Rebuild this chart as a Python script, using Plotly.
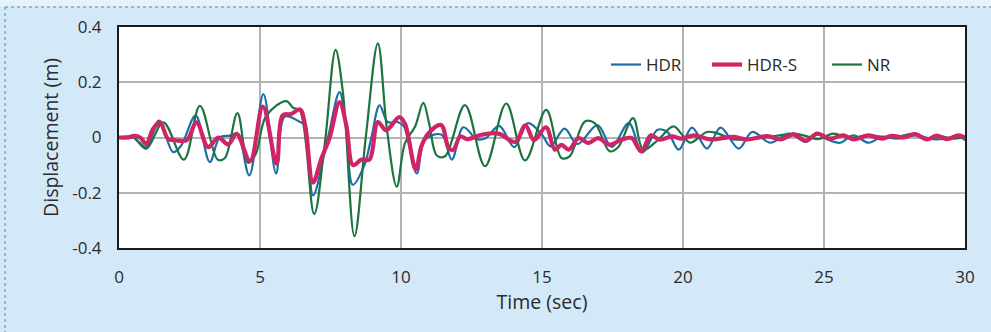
import plotly.graph_objects as go

# ---- data (time in sec, displacement in m) ----
t_hdr = [0, 0.5, 0.97, 1.42, 1.92, 2.2, 2.72, 3.22, 3.57, 3.93, 4.2, 4.62, 5.12, 5.57, 5.88,
         6.42, 6.6, 6.88, 7.41, 7.82, 8.05, 8.29, 8.7, 8.95, 9.24, 9.53, 9.88, 10.1, 10.56, 10.85,
         11.44, 11.8, 12.21, 12.69, 13.0, 13.48, 14.02, 14.5, 15.0, 15.3, 15.8, 16.25, 16.97, 17.47,
         18.08, 18.55, 19.1, 19.45, 19.85, 20.32, 20.85, 21.33, 21.98, 22.45, 23.1, 23.76, 24.35,
         24.76, 25.12, 25.57, 26.04, 26.58, 27.05, 27.58, 28.23, 28.95, 29.4, 29.77, 30]
v_hdr = [0, 0, -0.035, 0.061, -0.053, -0.03, 0.079, -0.089, 0.0, 0.007, 0.013, -0.137, 0.157, -0.13,
         0.076, 0.056, 0.044, -0.21, 0, 0.164, 0.04, -0.171, -0.1, 0.0, 0.116, 0.056, 0.056, 0.04,
         -0.13, -0.008, 0.01, -0.08, 0.037, -0.006, -0.003, 0.042, -0.035, 0.052, 0.01, -0.032,
         0.032, -0.024, 0.045, -0.034, 0.052, -0.054, 0.028, 0.02, -0.044, 0.036, -0.04, 0.036,
         -0.04, 0.02, -0.019, 0.014, -0.016, 0.012, -0.007, -0.019, 0.008, -0.019, 0.002, -0.004,
         0.008, -0.007, -0.002, 0.005, -0.01]

t_hdrs = [0, 0.3, 0.55, 0.75, 0.97, 1.2, 1.45, 1.74, 2.0, 2.4, 2.75, 3.16, 3.52, 3.87, 4.17, 4.65,
          5.1, 5.59, 5.8, 6.1, 6.42, 6.6, 6.88, 7.18, 7.47, 7.82, 8.06, 8.3, 8.6, 8.88, 9.18, 9.47,
          9.94, 10.14, 10.52, 10.73, 10.97, 11.42, 11.7, 11.86, 12.1, 12.35, 12.86, 13.46, 14.05,
          14.41, 14.72, 15.14, 15.46, 15.69, 15.95, 16.3, 16.64, 16.99, 17.4, 17.82, 18.18, 18.52,
          18.86, 19.18, 19.6, 19.95, 20.38, 20.97, 21.8, 22.27, 22.99, 23.46, 23.93, 24.35, 24.76,
          25.21, 25.69, 26.04, 26.58, 27.05, 27.4, 27.82, 28.23, 28.65, 29.0, 29.36, 29.77, 30]
v_hdrs = [0, 0, 0.006, 0, -0.023, 0.03, 0.055, -0.005, -0.01, -0.01, 0.055, -0.035, 0.0, -0.025,
          0.013, -0.085, 0.112, -0.095, 0.08, 0.085, 0.102, 0.044, -0.163, -0.075, 0, 0.128, 0.045,
          -0.1, -0.08, -0.08, 0.056, 0.026, 0.074, 0.05, -0.115, -0.03, 0.015, 0.045, -0.04, -0.044,
          0.004, -0.006, 0.01, 0.014, -0.016, 0.044, -0.01, 0.037, -0.044, -0.027, -0.044, -0.002,
          -0.02, -0.002, -0.026, -0.008, -0.002, -0.05, 0.008, -0.008, 0.004, -0.004, 0.008, -0.007,
          0.002, -0.007, 0.005, -0.007, 0.011, -0.012, 0.014, -0.004, 0.008, -0.007, 0.008, -0.004,
          0.006, 0, 0.012, -0.007, 0.007, -0.006, 0.008, 0]

t_nr = [0, 0.5, 0.97, 1.57, 2.3, 2.87, 3.5, 3.75, 4.2, 4.58, 4.85, 5.22, 5.93, 6.18, 6.41, 6.92,
        7.3, 7.68, 7.94, 8.35, 8.75, 9.18, 9.5, 9.85, 10.14, 10.5, 10.79, 11.0, 11.27, 11.56, 12.27,
        12.98, 13.73, 14.4, 15.15, 15.69, 15.98, 16.52, 16.87, 17.4, 17.7, 18.23, 18.59, 19.1,
        19.66, 20.0, 20.26, 20.85, 21.2, 21.8, 22.5, 23.2, 23.93, 24.4, 24.8, 25.33, 25.9, 26.58,
        27.1, 27.6, 28.18, 28.7, 29.1, 29.6, 30]
v_nr = [0, 0, -0.04, 0.055, -0.08, 0.115, -0.08, -0.075, 0.088, -0.092, -0.06, 0.078, 0.132, 0.107,
        0.098, -0.277, -0.02, 0.317, 0.164, -0.357, 0.0, 0.341, 0.03, -0.178, -0.02, 0.04, 0.125,
        0.05, -0.065, -0.068, 0.117, -0.104, 0.123, -0.083, 0.1, -0.074, -0.068, 0.058, 0.052,
        -0.05, -0.035, 0.07, -0.044, -0.01, 0.04, 0.006, -0.019, 0.02, 0.016, -0.007, -0.004,
        0.004, 0.014, 0.004, -0.006, 0.014, -0.002, 0.008, 0.002, 0.002, 0.014, -0.006, 0.004,
        -0.004, 0]

x_ticks = [0, 5, 10, 15, 20, 25, 30]
y_ticks = [-0.4, -0.2, 0, 0.2, 0.4]
y_tick_text = ["-0.4", "-0.2", "0", "0.2", "0.4"]

assert len(t_hdr) == len(v_hdr) and len(t_hdrs) == len(v_hdrs) and len(t_nr) == len(v_nr)

C_HDR = "#1b6fa6"
C_HDRS = "#cf2466"
C_NR = "#1c7440"

fig = go.Figure()
fig.add_trace(go.Scatter(x=t_hdr, y=v_hdr, name="HDR", mode="lines", legend="legend",
                         showlegend=True,
                         line=dict(color=C_HDR, width=2.2, shape="spline", smoothing=1.0)))
fig.add_trace(go.Scatter(x=t_nr, y=v_nr, name="NR", mode="lines", legend="legend3",
                         showlegend=True,
                         line=dict(color=C_NR, width=2.2, shape="spline", smoothing=1.0)))
fig.add_trace(go.Scatter(x=t_hdrs, y=v_hdrs, name="HDR-S", mode="lines", legend="legend2",
                         showlegend=True,
                         line=dict(color=C_HDRS, width=4.2, shape="spline", smoothing=1.0)))

L, R, T, B = 119, 26, 27, 84
W, H = 991, 332
pw, ph = W - L - R, H - T - B

def px(x):
    return (x - L) / pw

def py(y):
    return (H - B - y) / ph

def leg(xpix):
    return dict(orientation="h", x=px(xpix), y=py(65), xanchor="left", yanchor="middle",
                bgcolor="rgba(0,0,0,0)", font=dict(size=17), itemwidth=30, visible=True)

fig.update_layout(
    width=W, height=H,
    margin=dict(l=L, r=R, t=T, b=B),
    showlegend=True,
    paper_bgcolor="#d4e9f7",
    plot_bgcolor="white",
    font=dict(family="Open Sans", size=17, color="#2b2b2b"),
    legend=leg(606), legend2=leg(707), legend3=leg(827),
    shapes=[
        dict(type="rect", xref="paper", yref="paper", x0=px(-2), x1=px(W + 2), y0=py(6.5), y1=py(-2),
             fillcolor="#e6f2fa", line=dict(width=0), layer="below"),
        dict(type="line", xref="paper", yref="paper", x0=px(5), x1=px(W + 2), y0=py(7), y1=py(7),
             line=dict(color="#3f8ec6", width=1, dash="dot")),
        dict(type="line", xref="paper", yref="paper", x0=px(5), x1=px(5), y0=py(7), y1=py(H + 2),
             line=dict(color="#3f8ec6", width=1, dash="dot")),
    ],
)

fig.update_xaxes(
    range=[0, 30], tickvals=x_ticks, showgrid=True, gridcolor="#b3b3b3", gridwidth=1.5,
    showline=True, linecolor="#1a1a1a", linewidth=2, mirror=True, zeroline=False,
    ticks="outside", ticklen=13, tickcolor="rgba(0,0,0,0)",
    title=dict(text="Time (sec)", font=dict(size=19.5), standoff=5),
)
fig.update_yaxes(
    range=[-0.4, 0.4], tickvals=y_ticks, ticktext=y_tick_text, showgrid=True,
    gridcolor="#b3b3b3", gridwidth=1.5,
    showline=True, linecolor="#1a1a1a", linewidth=2, mirror=True, zeroline=False,
    ticks="outside", ticklen=12, tickcolor="rgba(0,0,0,0)",
    title=dict(text="Displacement (m)", font=dict(size=19.5), standoff=8),
)

fig.write_html("out.html")
